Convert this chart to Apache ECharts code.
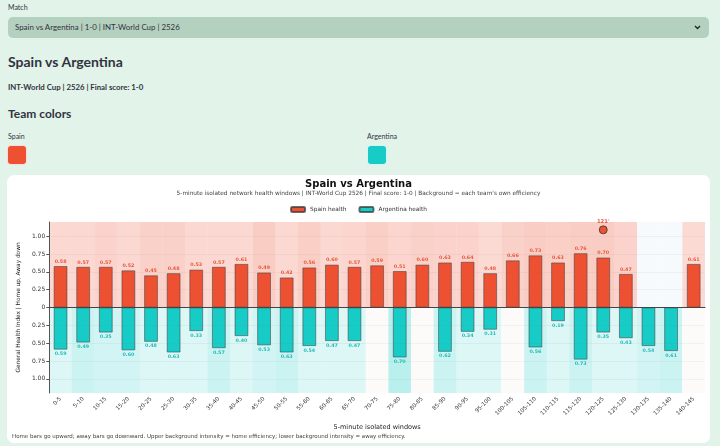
<!DOCTYPE html>
<html>
<head>
<meta charset="utf-8">
<script src="https://cdn.jsdelivr.net/npm/echarts@6/dist/echarts.min.js"></script>
<style>
  body { margin: 0; width: 720px; height: 446px; overflow: hidden; position: relative;
         background: #e2f3e9; font-family: Lato, "Noto Sans", sans-serif; color: #31333f; }
  .abs { position: absolute; white-space: nowrap; }
  .select { left: 8px; top: 17px; width: 701px; height: 21px; background: #b4d0be; border-radius: 5px; }
  .select span { position: absolute; left: 7px; top: 5px; font-size: 7.9px; }
  .swatch { width: 20px; height: 20px; border-radius: 4px; border: 1px solid rgba(255,255,255,0.8); box-sizing: border-box; }
  #chart { left: 7px; top: 175px; width: 703px; height: 268px; background: #fff; border-radius: 7px; }
</style>
</head>
<body>
<div class="abs" style="left:8px;top:3px;font-size:7px;">Match</div>
<div class="abs select"><span>Spain vs Argentina | 1-0 | INT-World Cup | 2526</span>
  <svg style="position:absolute;right:8px;top:8px" width="7" height="5"><polyline points="1,1 3.5,3.5 6,1" fill="none" stroke="#222" stroke-width="1.3"/></svg>
</div>
<div class="abs" style="left:8px;top:53px;font-size:14px;font-weight:700;">Spain vs Argentina</div>
<div class="abs" style="left:8px;top:82px;font-size:7.8px;font-weight:700;">INT-World Cup | 2526 | Final score: 1-0</div>
<div class="abs" style="left:8px;top:106px;font-size:12px;font-weight:700;">Team colors</div>
<div class="abs" style="left:8px;top:132px;font-size:7px;">Spain</div>
<div class="abs swatch" style="left:7px;top:145px;background:#ee5132;"></div>
<div class="abs" style="left:367px;top:132px;font-size:7px;">Argentina</div>
<div class="abs swatch" style="left:367px;top:145px;background:#17cbc6;"></div>
<div id="chart" class="abs"></div>
<script>
// 5-minute windows
const windows = ['0-5', '5-10', '10-15', '15-20', '20-25', '25-30', '30-35', '35-40', '40-45', '45-50',
  '50-55', '55-60', '60-65', '65-70', '70-75', '75-80', '80-85', '85-90', '90-95', '95-100',
  '100-105', '105-110', '110-115', '115-120', '120-125', '125-130', '130-135', '135-140', '140-145'];

// health index per window (null = no data)
const spainHealth = [0.58, 0.57, 0.57, 0.52, 0.45, 0.48, 0.53, 0.57, 0.61, 0.49,
  0.42, 0.56, 0.60, 0.57, 0.59, 0.51, 0.60, 0.63, 0.64, 0.48,
  0.66, 0.73, 0.63, 0.76, 0.70, 0.47, null, null, 0.61];
const argentinaHealth = [0.59, 0.49, 0.35, 0.60, 0.48, 0.63, 0.33, 0.57, 0.40, 0.53,
  0.63, 0.54, 0.47, 0.47, null, 0.70, null, 0.62, 0.34, 0.31,
  null, 0.56, 0.19, 0.73, 0.35, 0.43, 0.54, 0.61, null];

// efficiency per window, drives background intensity (estimated)
const spainEff = [0.35, 0.35, 0.45, 0.35, 0.5, 0.5, 0.35, 0.35, 0.35, 0.6,
  0.35, 0.55, 0.35, 0.4, 0.55, 0.4, 0.5, 0.45, 0.45, 0.3,
  0.5, 0.6, 0.55, 0.6, 0.6, 0.45, null, null, 0.3];
const argentinaEff = [0.3, 0.55, 0.45, 0.45, 0.3, 0.3, 0.3, 0.55, 0.3, 0.45,
  0.55, 0.3, 0.3, 0.3, null, 0.8, null, 0.55, 0.3, 0.3,
  null, 0.55, 0.3, 0.55, 0.3, 0.3, 0.45, 0.55, null];

// goals
const goalWindows = ['120-125'];
const goalLabels = ["121'"];
const goalY = [1.09];

const yTicks = [-1, -0.75, -0.5, -0.25, 0, 0.25, 0.5, 0.75, 1];
const yMax = 1.2;

const spainColor = '#ee5132';
const argColor = '#17cbc6';

function bandItem(top) {
  return function (params, api) {
    const i = api.value(0);
    const e = api.value(1);
    const base = api.coord([i, 0]);
    const edge = api.coord([i, top ? yMax : -yMax]);
    const w = api.size([1, 0])[0];
    let fill;
    if (isNaN(e)) {
      fill = top ? '#f7fafd' : '#fdfbf9';
    } else if (top) {
      fill = 'rgba(238,81,50,' + (0.13 + 0.27 * e).toFixed(3) + ')';
    } else {
      fill = 'rgba(23,201,197,' + (0.06 + 0.3 * e).toFixed(3) + ')';
    }
    const y0 = Math.min(base[1], edge[1]);
    return {
      type: 'rect',
      shape: { x: base[0] - w / 2, y: y0, width: w, height: Math.abs(edge[1] - base[1]) },
      style: { fill: fill }
    };
  };
}

const gridLines = yTicks.filter(v => v !== 0).map(v => ({ yAxis: v }));

const chart = echarts.init(document.getElementById('chart'));
chart.setOption({
  animation: false,
  textStyle: { fontFamily: 'DejaVu Sans' },
  title: {
    text: 'Spain vs Argentina',
    subtext: "5-minute isolated network health windows | INT-World Cup 2526 | Final score: 1-0 | Background = each team's own efficiency",
    left: 'center', top: -1, itemGap: 1,
    textStyle: { fontSize: 10, fontWeight: 'bold', color: '#111' },
    subtextStyle: { fontSize: 5.8, color: '#444' }
  },
  legend: {
    data: ['Spain health', 'Argentina health'],
    top: 26, left: 'center', itemWidth: 14, itemHeight: 5, itemGap: 12,
    textStyle: { fontSize: 5.8, color: '#333' }
  },
  graphic: [{
    type: 'text', left: 5, top: 259,
    style: {
      text: 'Home bars go upward; away bars go downward. Upper background intensity = home efficiency; lower background intensity = away efficiency.',
      fontSize: 5.5, fill: '#444', fontFamily: 'DejaVu Sans'
    }
  }],
  grid: { left: 37, right: 5, top: 47, bottom: 50 },
  xAxis: {
    type: 'category', data: windows,
    name: '5-minute isolated windows', nameLocation: 'middle', nameGap: 20,
    nameTextStyle: { fontSize: 6.5, color: '#222' },
    axisLine: { lineStyle: { color: '#555', width: 1 } },
    axisTick: { alignWithLabel: true, length: 3, lineStyle: { color: '#555' } },
    axisLabel: { rotate: 45, fontSize: 5.6, color: '#333', margin: 5, interval: 0 }
  },
  yAxis: {
    type: 'value', min: -yMax, max: yMax,
    name: 'General Health Index | Home up, Away down', nameLocation: 'middle', nameGap: 15,
    nameTextStyle: { fontSize: 5.8, color: '#222' },
    axisLine: { show: true, lineStyle: { color: '#555', width: 1 } },
    axisTick: { show: true, length: 3, customValues: yTicks, lineStyle: { color: '#555' } },
    axisLabel: {
      fontSize: 6, color: '#333', margin: 4, customValues: yTicks,
      formatter: v => (v === 0 ? '0' : Math.abs(v).toFixed(2))
    },
    splitLine: { show: false }
  },
  series: [
    {
      type: 'custom', name: 'homeBg', silent: true, z: 0,
      renderItem: bandItem(true),
      data: spainEff.map((e, i) => [i, e === null ? NaN : e]),
      markLine: {
        silent: true, symbol: 'none', label: { show: false },
        lineStyle: { color: 'rgba(120,120,120,0.13)', width: 0.6, type: 'solid' },
        data: gridLines
      }
    },
    {
      type: 'custom', name: 'awayBg', silent: true, z: 0,
      renderItem: bandItem(false),
      data: argentinaEff.map((e, i) => [i, e === null ? NaN : e])
    },
    {
      type: 'bar', name: 'Spain health', barWidth: '60%', barGap: '-100%', z: 2,
      data: spainHealth,
      itemStyle: { color: spainColor, borderColor: 'rgba(60,60,60,0.75)', borderWidth: 0.7 },
      label: {
        show: true, position: 'top', distance: 2, fontSize: 4.8, fontWeight: 'bold', color: '#e8573c',
        formatter: p => p.value.toFixed(2)
      },
      markLine: {
        silent: true, symbol: 'none', label: { show: false },
        lineStyle: { color: '#444', width: 1, type: 'solid' },
        data: [{ yAxis: 0 }]
      }
    },
    {
      type: 'bar', name: 'Argentina health', barWidth: '60%', barGap: '-100%', z: 2,
      data: argentinaHealth.map(v => (v === null ? null : -v)),
      itemStyle: { color: argColor, borderColor: 'rgba(60,60,60,0.75)', borderWidth: 0.7 },
      label: {
        show: true, position: 'bottom', distance: 2, fontSize: 4.8, fontWeight: 'bold', color: '#1fbdb9',
        formatter: p => Math.abs(p.value).toFixed(2)
      }
    },
    {
      type: 'scatter', name: 'goals', z: 3, symbolSize: 8,
      data: goalWindows.map((w, i) => [w, goalY[i]]),
      itemStyle: { color: spainColor, borderColor: '#333', borderWidth: 0.8, opacity: 1 },
      label: {
        show: true, position: 'top', distance: 1, fontSize: 5.3, fontWeight: 'bold', color: '#e8573c',
        formatter: p => goalLabels[p.dataIndex]
      }
    }
  ]
});
</script>
</body>
</html>
